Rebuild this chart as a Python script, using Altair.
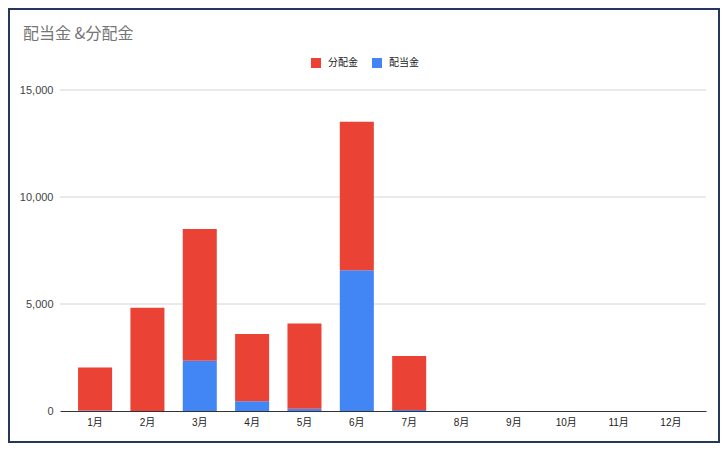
import altair as alt
import pandas as pd

# ---- data ----
months = ["1月", "2月", "3月", "4月", "5月", "6月", "7月", "8月", "9月", "10月", "11月", "12月"]
series_names = ["分配金", "配当金"]
series_colors = ["#ea4335", "#4285f4"]
bunpai = [2010, 4820, 6160, 3150, 3990, 6940, 2520, 0, 0, 0, 0, 0]   # 分配金 (red, top)
haito = [20, 0, 2350, 450, 100, 6580, 50, 0, 0, 0, 0, 0]            # 配当金 (blue, bottom)
y_ticks = [0, 5000, 10000, 15000]
grid_vals = [5000, 10000, 15000]

rows = []
for i, m in enumerate(months):
    rows.append({"month": m, "series": "配当金", "value": haito[i], "ord": 0})
    rows.append({"month": m, "series": "分配金", "value": bunpai[i], "ord": 1})
df = pd.DataFrame(rows)

FONT = "Liberation Sans, Noto Sans CJK JP, sans-serif"
W, H = 646, 321

y_scale = alt.Scale(domain=[0, 15000], nice=False)
y_axis = alt.Axis(values=y_ticks, format=",.0f", grid=False, domain=False, ticks=False,
                  labelPadding=7, labelFontSize=11, labelColor="#444444", title=None, zindex=1)

panel = alt.Chart(pd.DataFrame({"k": [0]})).mark_rect(color="white").encode(
    x=alt.value(-50), x2=alt.value(658), y=alt.value(-80), y2=alt.value(351)
)

grid = alt.Chart(pd.DataFrame({"value": grid_vals})).mark_rule(
    color="#d4d4d4", strokeWidth=1
).encode(
    y=alt.Y("value:Q", scale=y_scale, axis=y_axis),
    x=alt.value(0), x2=alt.value(W),
)

bars = alt.Chart(df).mark_bar().encode(
    x=alt.X("month:N", sort=months,
            scale=alt.Scale(paddingInner=0.35, paddingOuter=0.345),
            axis=alt.Axis(title=None, labelAngle=0, ticks=False, domainColor="#333333",
                          domainWidth=1, labelColor="#222222", labelFontSize=10,
                          labelPadding=6, zindex=1)),
    y=alt.Y("value:Q", stack="zero", scale=y_scale, axis=y_axis),
    color=alt.Color("series:N",
                    scale=alt.Scale(domain=series_names, range=series_colors),
                    legend=alt.Legend(title=None, orient="none", legendX=251, legendY=-32,
                                      direction="horizontal", symbolType="square",
                                      symbolSize=100, symbolStrokeWidth=0,
                                      labelFontSize=10, labelColor="#222222",
                                      labelOffset=7, columnPadding=14, padding=0,
                                      zindex=1)),
    order=alt.Order("ord:Q", sort="ascending"),
)

chart = alt.layer(panel, grid, bars).properties(
    width=W,
    height=H,
    autosize=alt.AutoSizeParams(type="none"),
    padding={"left": 52, "top": 82, "right": 14, "bottom": 32},
    background="#25375a",
    title=alt.TitleParams(text="配当金 &分配金", anchor="start", frame="group", dx=-37, dy=36,
                          fontSize=16, fontWeight="normal", color="#757575",
                          font="Noto Sans CJK JP", zindex=1),
).configure(font=FONT).configure_view(stroke=None)

chart.save("out.html", embed_options={"renderer": "svg", "actions": False})
